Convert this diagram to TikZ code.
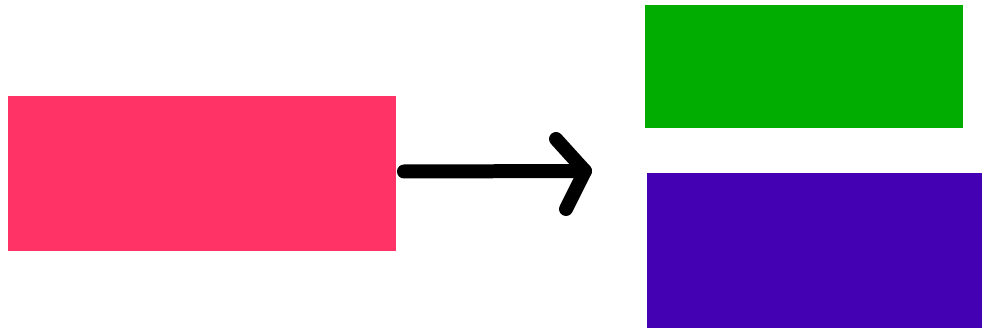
\documentclass[tikz,border=0pt]{standalone}
\usetikzlibrary{positioning}
\definecolor{pinkc}{HTML}{FF3366}
\definecolor{greenc}{HTML}{00AD00}
\definecolor{purplec}{HTML}{4400B3}
\begin{document}
\begin{tikzpicture}[x=0.02cm,y=-0.02cm,
  blockbox/.style={rectangle,inner sep=0pt,outer sep=0pt,draw=none},
  strokeline/.style={line width=0.28cm,line cap=round,line join=round,black}]
\useasboundingbox (0,0) rectangle (982,330);
\node[blockbox,fill=pinkc,minimum width=7.76cm,minimum height=3.1cm] (pink) at (202,173.5) {};
\node[blockbox,fill=greenc,minimum width=6.36cm,minimum height=2.46cm] (green) at (804,66.5) {};
\node[blockbox,fill=purplec,minimum width=6.7cm,minimum height=3.1cm] (purple) at (814.5,250.5) {};
\coordinate (tip) at (585,171);
\coordinate (headtop) at (556,139);
\coordinate (headbot) at (566,209);
\draw[strokeline] ([xshift=0.16cm,yshift=0.04cm]pink.east) -- (tip);
\draw[strokeline] (headtop) -- (tip) -- (headbot);
\end{tikzpicture}
\end{document}
